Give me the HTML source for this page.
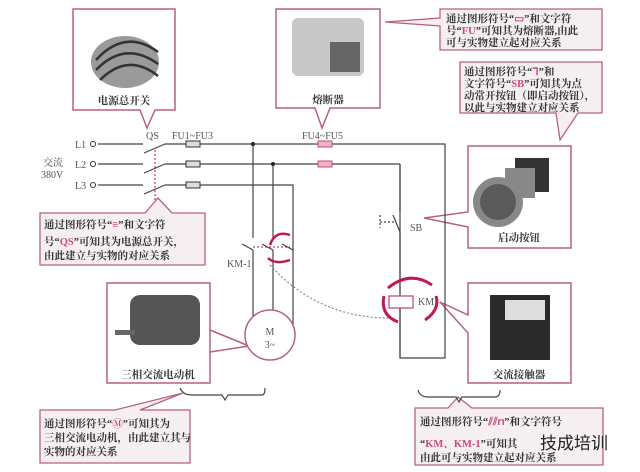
<!DOCTYPE html>
<html><head><meta charset="utf-8"><style>
html,body{margin:0;padding:0;background:#fff;}
svg{display:block;font-family:"Liberation Serif","Noto Serif CJK SC","Noto Sans CJK SC",serif;}
.t{font-size:10.5px;fill:#333;font-weight:bold;}
.l{font-size:10px;fill:#555;}
.p{fill:#d04a7a;}
</style></head><body>
<svg width="640" height="472" viewBox="0 0 640 472" xmlns="http://www.w3.org/2000/svg">
<rect width="640" height="472" fill="#fff"/>
<g fill="none" stroke="#b8617e" stroke-width="1.5">
<path d="M73,9 H175 V110 H155 L147,128 L140,110 H73 Z" fill="#fff"/>
<path d="M276,9 H380 V108 H330 L322,128 L315,108 H276 Z" fill="#fff"/>
<path d="M468,146 H571 V248 H468 V227 L424,218 L468,212 Z" fill="#fff"/>
<path d="M107,283 H210 V383 H107 Z" fill="#fff"/>
<path d="M210,330 L249,346 M210,352 L249,346"/>
<path d="M468,283 H571 V383 H468 V333 L440,302 L468,315 Z" fill="#fff"/>
</g>
<g fill="#f5eff2" stroke="#b8617e" stroke-width="1.3">
<path d="M440,9 H602 V50 H440 V26 L385,22 L440,18 Z"/>
<path d="M460,62 H602 V113 H578 L560,140 L556,113 H460 Z"/>
<path d="M40,213 H145 L158,198 L172,213 H205 V265 H40 Z"/>
<path d="M40,410 H115 L183,393 L140,410 H190 V463 H40 Z"/>
<path d="M415,408 H448 L458,397 L472,408 H603 V465 H415 Z"/>
</g>
<ellipse cx="125" cy="62" rx="34" ry="26" fill="#9a9a9a"/>
<path d="M96,60 Q125,28 158,52" stroke="#333" stroke-width="2.5" fill="none"/>
<path d="M96,70 Q125,40 158,64" stroke="#333" stroke-width="2.5" fill="none"/>
<path d="M100,80 Q128,52 158,76" stroke="#333" stroke-width="2.5" fill="none"/>
<rect x="292" y="18" width="72" height="58" rx="6" fill="#c8c8c8"/>
<rect x="330" y="42" width="30" height="30" fill="#666"/>
<rect x="515" y="158" width="34" height="34" fill="#333"/>
<rect x="505" y="168" width="30" height="30" fill="#888"/>
<circle cx="498" cy="202" r="25" fill="#888"/>
<circle cx="498" cy="202" r="18" fill="#5a5a5a"/>
<rect x="130" y="295" width="70" height="50" rx="10" fill="#555"/>
<rect x="115" y="330" width="20" height="5" fill="#666"/>
<rect x="490" y="295" width="60" height="65" fill="#2a2a2a"/>
<rect x="505" y="300" width="40" height="20" fill="#ddd"/>
<text x="124" y="104" class="t" text-anchor="middle">电源总开关</text>
<text x="328" y="103" class="t" text-anchor="middle">熔断器</text>
<text x="519" y="241" class="t" text-anchor="middle">启动按钮</text>
<text x="158" y="378" class="t" text-anchor="middle">三相交流电动机</text>
<text x="519" y="378" class="t" text-anchor="middle">交流接触器</text>
<g stroke="#444" stroke-width="1.2" fill="none">
<path d="M98,144 H143 M165,144 H445 V358 H400 V164 M98,164 H143 M165,164 H400 M98,185 H143 M165,185 H293 V325"/>
<path d="M144,153 L165,144 M144,173 L165,164 M144,194 L165,185"/>
<path d="M253,144 V238 M253,250 V325 M273,164 V238 M273,250 V325"/>
<path d="M242,244 L253,250 M262,244 L273,250 M282,244 L293,250"/>
<path d="M400,164 V212 M400,232 V292 M400,305 V358 M393,215 L400,232"/>
<path d="M380,215 V228 M380,222 H394" stroke-dasharray="2,2"/>
<path d="M180,388 Q183,395 192,395 H222 L225,400 L228,395 H262 Q265,395 265,388"/>
<path d="M418,390 Q420,397 428,397 H456 L459,402 L462,397 H495 Q500,397 500,390"/>
</g>
<path d="M155,150 V200" stroke="#c06" stroke-width="1" stroke-dasharray="2,2"/>
<path d="M253,247 H290" stroke="#c06" stroke-width="1" stroke-dasharray="2,2"/>
<path d="M270,265 Q320,320 395,318" stroke="#777" stroke-width="1" stroke-dasharray="2,2" fill="none"/>
<circle cx="253" cy="144" r="2" fill="#222"/><circle cx="273" cy="164" r="2" fill="#222"/>
<g fill="#fff" stroke="#333"><circle cx="93" cy="144" r="2.5"/><circle cx="93" cy="164" r="2.5"/><circle cx="93" cy="185" r="2.5"/></g>
<g fill="#ddd" stroke="#333" stroke-width="1"><rect x="186" y="141" width="14" height="6"/><rect x="186" y="161" width="14" height="6"/><rect x="186" y="182" width="14" height="6"/></g>
<g fill="#f0b0c8" stroke="#c05080" stroke-width="1"><rect x="318" y="141" width="14" height="6"/><rect x="318" y="161" width="14" height="6"/></g>
<circle cx="270" cy="335" r="25" fill="#fff" stroke="#b8617e" stroke-width="1.5"/>
<text x="270" y="335" class="l" text-anchor="middle">M</text>
<text x="270" y="348" class="l" text-anchor="middle">3~</text>
<rect x="389" y="296" width="24" height="12" fill="#fff" stroke="#c05080" stroke-width="1.3"/>
<path d="M388,288 Q410,270 432,285" stroke="#c0185c" stroke-width="3" fill="none"/>
<path d="M384,296 Q380,315 398,322 M425,320 Q440,310 436,296" stroke="#c0185c" stroke-width="3" fill="none"/>
<path d="M270,245 Q275,230 290,235 M268,258 Q275,265 290,260" stroke="#c0185c" stroke-width="2.5" fill="none"/>
<text x="418" y="305" class="l" fill="#b07">KM</text>
<text x="227" y="267" class="l">KM-1</text>
<text x="410" y="231" class="l">SB</text>
<text x="146" y="139" class="l">QS</text>
<text x="172" y="139" class="l">FU1~FU3</text>
<text x="302" y="139" class="l" fill="#b07">FU4~FU5</text>
<text x="75" y="148" class="l">L1</text><text x="75" y="168" class="l">L2</text><text x="75" y="189" class="l">L3</text>
<text x="43" y="166" class="l">交流</text><text x="41" y="178" class="l">380V</text>
<text class="t"><tspan x="446" y="22">通过图形符号“<tspan class="p">▭</tspan>”和文字符</tspan><tspan x="446" y="34">号“<tspan class="p">FU</tspan>”可知其为熔断器,由此</tspan><tspan x="446" y="46">可与实物建立起对应关系</tspan></text>
<text class="t"><tspan x="464" y="75">通过图形符号“<tspan class="p">ᒣ</tspan>”和</tspan><tspan x="464" y="87">文字符号“<tspan class="p">SB</tspan>”可知其为点</tspan><tspan x="464" y="99">动常开按钮（即启动按钮），</tspan><tspan x="464" y="111">以此与实物建立对应关系</tspan></text>
<text class="t"><tspan x="44" y="228">通过图形符号“<tspan class="p">≡</tspan>”和文字符</tspan><tspan x="44" y="245">号“<tspan class="p">QS</tspan>”可知其为电源总开关，</tspan><tspan x="44" y="259">由此建立与实物的对应关系</tspan></text>
<text class="t"><tspan x="44" y="427">通过图形符号“<tspan class="p">Ⓜ</tspan>”可知其为</tspan><tspan x="44" y="441">三相交流电动机，由此建立其与</tspan><tspan x="44" y="455">实物的对应关系</tspan></text>
<text class="t"><tspan x="420" y="425">通过图形符号“<tspan class="p">⫽⫽⊓</tspan>”和文字符号</tspan><tspan x="420" y="447">“<tspan class="p">KM、KM-1</tspan>”可知其</tspan><tspan x="420" y="461">由此可与实物建立起对应关系</tspan></text>
<text x="540" y="449" font-size="17" fill="#222" font-family="Liberation Sans,Noto Sans CJK SC,sans-serif">技成培训</text>
</svg>
</body></html>
